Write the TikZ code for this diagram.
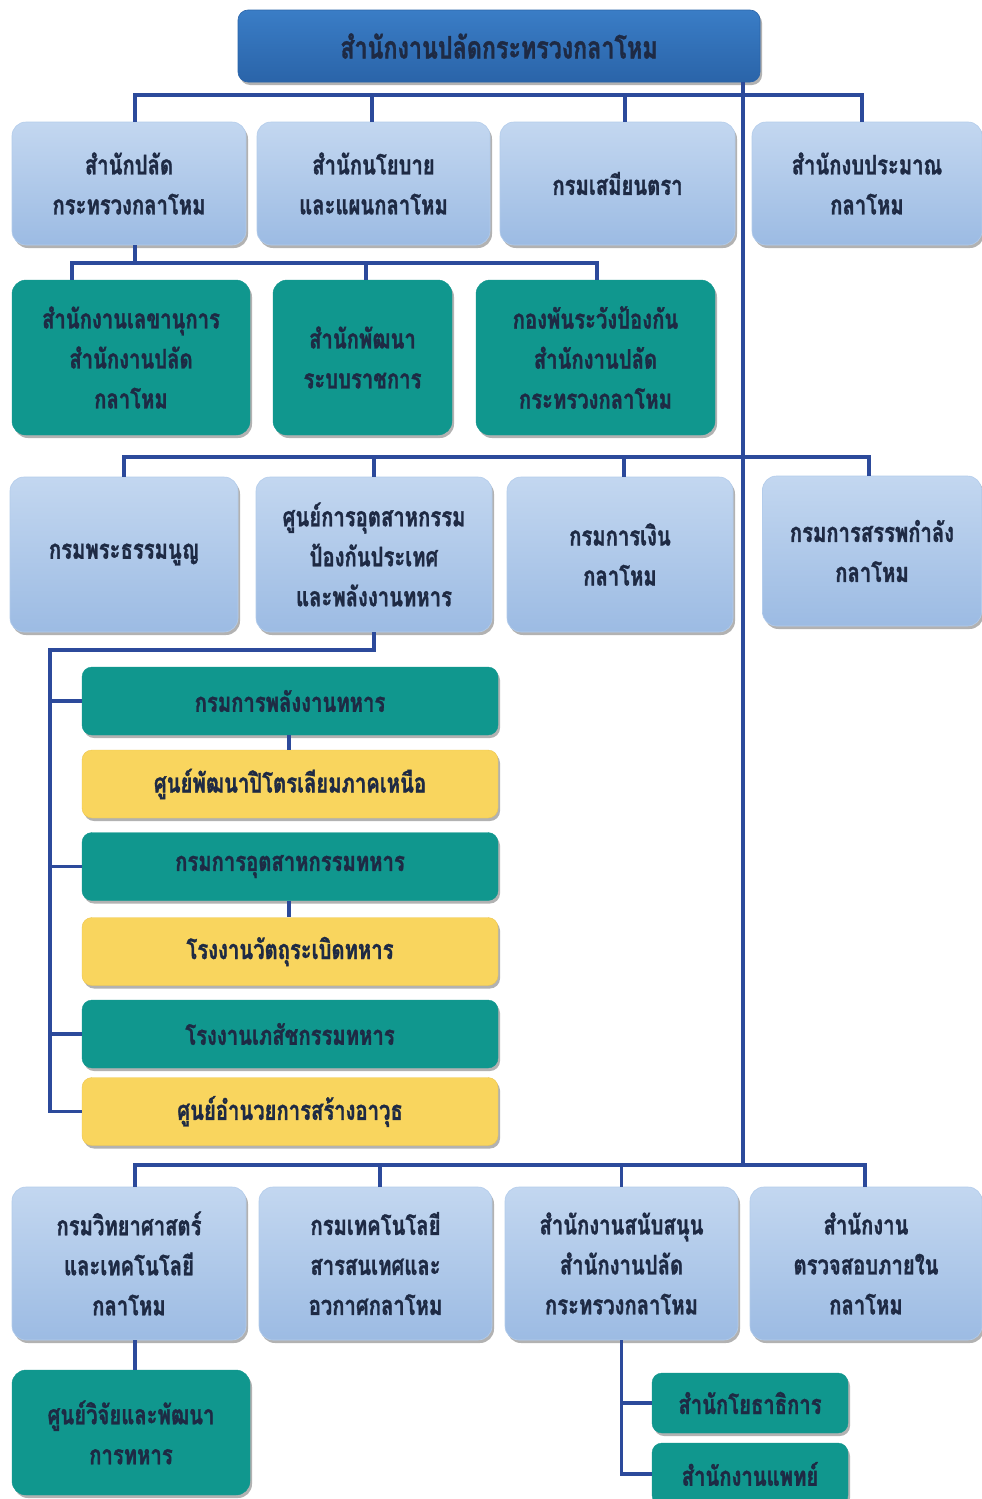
\documentclass[tikz,border=0pt]{standalone}
\usepackage{fontspec}
\newfontfamily\thaifont[Script=Thai,FakeStretch=0.75,BoldFeatures={FakeBold=1.2}]{Loma}
\usetikzlibrary{shadows}
\definecolor{lbt}{HTML}{C3D7F0}
\definecolor{lbb}{HTML}{9CBBE3}
\definecolor{lbd}{HTML}{B3CCEB}
\definecolor{topt}{HTML}{3A7DC6}
\definecolor{topb}{HTML}{2A64A9}
\definecolor{tealc}{HTML}{10978E}
\definecolor{yelc}{HTML}{F9D55E}
\definecolor{yeld}{HTML}{EEC64C}
\definecolor{txtc}{HTML}{1E2A44}
\definecolor{linec}{HTML}{2C4A9B}
\begin{document}
\begin{tikzpicture}[x=1pt,y=-1pt,
  box/.style={rounded corners=14pt, align=center, inner sep=2pt,
    font=\thaifont\bfseries\fontsize{27}{40}\selectfont, text=txtc,
    drop shadow={shadow xshift=2pt, shadow yshift=-3pt, opacity=0.3, fill=black}},
  lbox/.style={box, top color=lbt, bottom color=lbb, draw=lbd, line width=0.6pt},
  topbox/.style={box, top color=topt, bottom color=topb, draw=topb, line width=0.6pt, rounded corners=10pt,
    font=\thaifont\bfseries\fontsize{31}{40}\selectfont},
  tbox/.style={box, fill=tealc, draw=tealc},
  sbox/.style={box, rounded corners=10pt, minimum width=416, minimum height=68},
  ybox/.style={sbox, fill=yelc, draw=yeld},
  stbox/.style={sbox, fill=tealc, draw=tealc},
  conn/.style={draw=linec, line width=3.2pt}]
\useasboundingbox (0,0) rectangle (982,1499);
\fill[white] (0,0) rectangle (982,1499);

% top
\node[topbox, minimum width=522, minimum height=72] (top) at (499,46) {สำนักงานปลัดกระทรวงกลาโหม};

% row 1
\node[lbox, minimum width=234, minimum height=123] (r1a) at (129,183.5) {สำนักปลัด\\กระทรวงกลาโหม};
\node[lbox, minimum width=233, minimum height=123] (r1b) at (373.5,183.5) {สำนักนโยบาย\\และแผนกลาโหม};
\node[lbox, minimum width=235, minimum height=123] (r1c) at (617.5,183.5) {กรมเสมียนตรา};
\node[lbox, minimum width=230, minimum height=123] (r1d) at (867,183.5) {สำนักงบประมาณ\\กลาโหม};

% row 2
\node[tbox, minimum width=238, minimum height=155] (r2a) at (131,357.5) {สำนักงานเลขานุการ\\สำนักงานปลัด\\กลาโหม};
\node[tbox, minimum width=179, minimum height=155] (r2b) at (362.5,357.5) {สำนักพัฒนา\\ระบบราชการ};
\node[tbox, minimum width=239, minimum height=155] (r2c) at (595.5,357.5) {กองพันระวังป้องกัน\\สำนักงานปลัด\\กระทรวงกลาโหม};

% row 3
\node[lbox, minimum width=228, minimum height=155] (r3a) at (124,554.5) {กรมพระธรรมนูญ};
\node[lbox, minimum width=236, minimum height=155] (r3b) at (374,554.5) {ศูนย์การอุตสาหกรรม\\ป้องกันประเทศ\\และพลังงานทหาร};
\node[lbox, minimum width=226, minimum height=155] (r3c) at (620,554.5) {กรมการเงิน\\กลาโหม};
\node[lbox, minimum width=219, minimum height=150] (r3d) at (872,551) {กรมการสรรพกำลัง\\กลาโหม};

% stack
\node[stbox] (s1) at (290,701) {กรมการพลังงานทหาร};
\node[ybox] (s2) at (290,784) {ศูนย์พัฒนาปิโตรเลียมภาคเหนือ};
\node[stbox] (s3) at (290,866.5) {กรมการอุตสาหกรรมทหาร};
\node[ybox] (s4) at (290,951.5) {โรงงานวัตถุระเบิดทหาร};
\node[stbox] (s5) at (290,1034) {โรงงานเภสัชกรรมทหาร};
\node[ybox] (s6) at (290,1111.5) {ศูนย์อำนวยการสร้างอาวุธ};

% bottom row
\node[lbox, minimum width=234, minimum height=153] (b1) at (129,1263.5) {กรมวิทยาศาสตร์\\และเทคโนโลยี\\กลาโหม};
\node[lbox, minimum width=233, minimum height=153] (b2) at (375.5,1263.5) {กรมเทคโนโลยี\\สารสนเทศและ\\อวกาศกลาโหม};
\node[lbox, minimum width=233, minimum height=153] (b3) at (621.5,1263.5) {สำนักงานสนับสนุน\\สำนักงานปลัด\\กระทรวงกลาโหม};
\node[lbox, minimum width=232, minimum height=153] (b4) at (866,1263.5) {สำนักงาน\\ตรวจสอบภายใน\\กลาโหม};

\node[tbox, minimum width=238, minimum height=125] (bc1) at (131,1432.5) {ศูนย์วิจัยและพัฒนา\\การทหาร};
\node[tbox, rounded corners=10pt, minimum width=196, minimum height=60] (bc3a) at (750,1403) {สำนักโยธาธิการ};
\node[tbox, rounded corners=10pt, minimum width=196, minimum height=62] (bc3b) at (750,1474) {สำนักงานแพทย์};

% junction coordinates
\coordinate (bus1) at (743,95);
\coordinate (bus2) at (135,263);
\coordinate (bus3) at (743,457);
\coordinate (mainbot) at (743,1165);
\coordinate (stk) at (50,650);

% connectors
\draw[conn] (top.south -| bus1) -- (mainbot);
\draw[conn] ([xshift=6pt]r1a.north) |- (bus1) -| ([xshift=-5pt]r1d.north);
\draw[conn] ([xshift=-1.5pt]r1b.north) -- ([xshift=-1.5pt]r1b.north |- bus1);
\draw[conn] ([xshift=7.5pt]r1c.north) -- ([xshift=7.5pt]r1c.north |- bus1);

\draw[conn] ([xshift=6pt]r1a.south) -- (bus2);
\draw[conn] ([xshift=-59pt]r2a.north) |- (bus2) -| ([xshift=1.5pt]r2c.north);
\draw[conn] ([xshift=3.5pt]r2b.north) -- ([xshift=3.5pt]r2b.north |- bus2);

\draw[conn] (r3a.north) |- (bus3) -| ([xshift=-3pt]r3d.north);
\draw[conn] (r3b.north) -- (r3b.north |- bus3);
\draw[conn] ([xshift=4pt]r3c.north) -- ([xshift=4pt]r3c.north |- bus3);

\draw[conn] (r3b.south) |- (stk) |- (s6.west);
\draw[conn] (stk |- s1.west) -- (s1.west);
\draw[conn] (stk |- s3.west) -- (s3.west);
\draw[conn] (stk |- s5.west) -- (s5.west);
\draw[conn] ([xshift=-1pt]s1.south) -- ([xshift=-1pt]s2.north);
\draw[conn] ([xshift=-1pt]s3.south) -- ([xshift=-1pt]s4.north);

\draw[conn] ([xshift=6pt]b1.north) |- (mainbot) -| ([xshift=-1pt]b4.north);
\draw[conn] ([xshift=4.5pt]b2.north) -- ([xshift=4.5pt]b2.north |- mainbot);
\draw[conn] (b3.north) -- (b3.north |- mainbot);

\draw[conn] ([xshift=6pt]b1.south) -- ([xshift=4pt]bc1.north);
\draw[conn] (b3.south) |- (bc3b.west);
\draw[conn] (b3.south |- bc3a.west) -- (bc3a.west);
\end{tikzpicture}
\end{document}
